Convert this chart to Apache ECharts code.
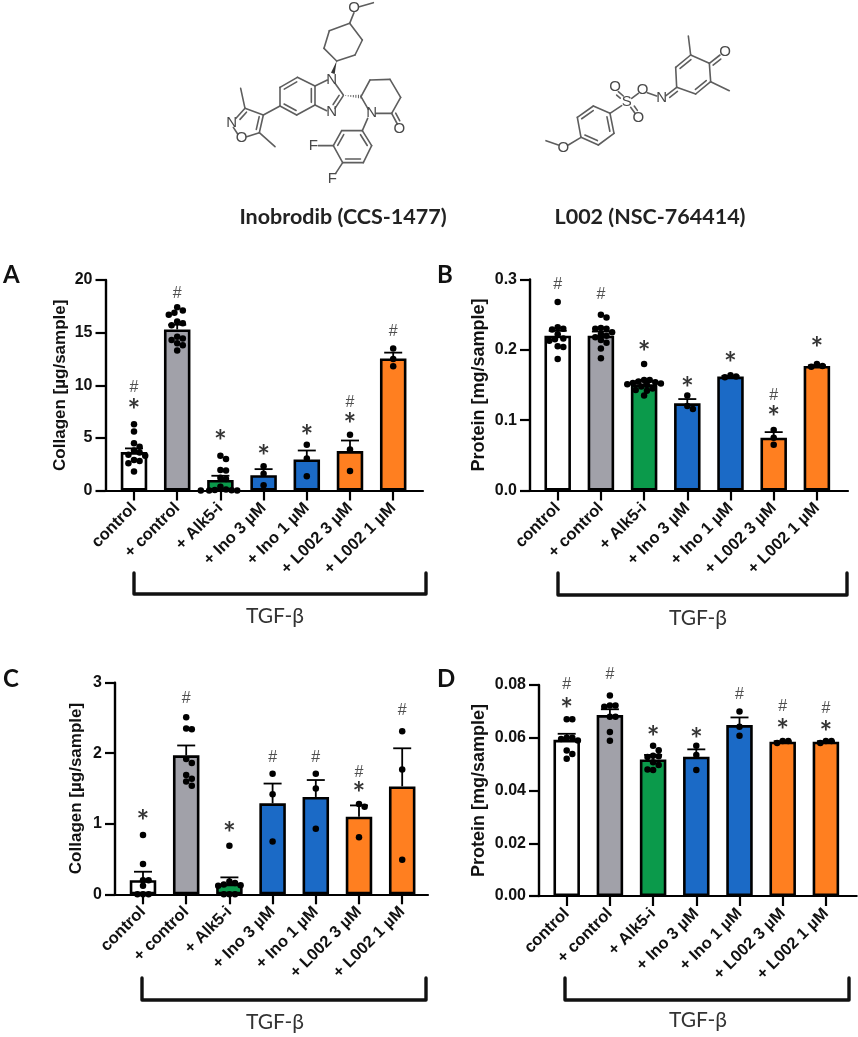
<!DOCTYPE html>
<html><head><meta charset="utf-8">
<style>html,body{margin:0;padding:0;background:#fff}#c{width:858px;height:1037px}</style>
<script src="https://cdn.jsdelivr.net/npm/echarts@6/dist/echarts.min.js"></script>
</head><body><div id="c"></div>
<script>
const categories = ['control','+ control','+ Alk5-i','+ Ino 3 µM','+ Ino 1 µM','+ L002 3 µM','+ L002 1 µM'];
const barColors = ['#ffffff','#a1a1a9','#0b9a4b','#1b6ac6','#1b6ac6','#ff7f20','#ff7f20'];

const barsA = [3.65,15.3,1.0,1.45,2.95,3.75,12.55];
const errA  = [4.0,15.75,1.4,2.03,3.8,4.75,13.1];
const ptsA  = [
 [6.3,5.6,4.5,4.15,3.8,3.6,3.4,3.3,2.9,2.8,2.6,1.8],
 [17.4,17.1,16.9,16.7,16.05,15.9,15.7,14.6,14.45,14.3,14.0,13.8,13.3],
 [3.3,3.0,1.95,1.9,1.2,1.1,0.35,0.1,0.05,0.02,0,0,0],
 [2.3,1.6,0.5],[4.35,3.05,1.35],[5.3,3.9,1.85],[13.5,12.5,11.8]];
const hashA = [9.78,18.7,null,null,null,8.35,15.1];
const starA = [8.2,null,5.2,3.86,5.7,6.87,null];

const barsB = [0.22,0.22,0.151,0.124,0.162,0.075,0.177];
const errB  = [0.227,0.226,0.156,0.13,0.163,0.083,0.178];
const ptsB  = [
 [0.268,0.232,0.23,0.229,0.222,0.216,0.215,0.213,0.205,0.204,0.187],
 [0.25,0.246,0.231,0.23,0.23,0.225,0.222,0.22,0.218,0.214,0.21,0.202,0.188],
 [0.18,0.157,0.157,0.155,0.154,0.153,0.152,0.151,0.15,0.148,0.145,0.143,0.142,0.135],
 [0.135,0.12,0.116],[0.164,0.162,0.161],[0.086,0.075,0.065],[0.18,0.177,0.176]];
const hashB = [0.2924,0.278,null,null,null,0.1346,null];
const starB = [null,null,0.2047,0.154,0.189,0.1123,0.211];

const barsC = [0.2,1.97,0.15,1.29,1.38,1.1,1.53];
const errC  = [0.32,2.11,0.24,1.57,1.62,1.26,2.07];
const ptsC  = [
 [0.84,0.43,0.2,0.2,0.12,0,0,0],
 [2.51,2.35,2.34,1.92,1.86,1.69,1.64,1.6,1.54],
 [0.69,0.18,0.16,0.14,0.13,0.12,0,0,0],
 [1.71,1.42,0.75],[1.71,1.5,0.93],[1.28,1.24,0.81],[2.31,1.77,0.49]];
const hashC = [null,2.77,null,1.94,1.94,1.73,2.61];
const starC = [1.124,null,0.945,null,null,1.51,null];

const barsD = [0.0592,0.0686,0.0518,0.0528,0.0648,0.0585,0.0585];
const errD  = [0.0615,0.0708,0.0535,0.0556,0.0677,0.0587,0.0587];
const ptsD  = [
 [0.067,0.067,0.06,0.06,0.0595,0.059,0.0552,0.0538,0.052],
 [0.076,0.0722,0.0722,0.0718,0.068,0.068,0.0622,0.0589],
 [0.057,0.0553,0.0532,0.053,0.0527,0.0507,0.0497,0.0478,0.048],
 [0.057,0.0535,0.0478],[0.07,0.0642,0.0608],[0.0588,0.0588,0.058],[0.0588,0.0588,0.058]];
const hashD = [0.08,0.0838,null,null,0.0762,0.0718,0.0712];
const starD = [0.0729,null,0.0625,0.0617,null,0.065,0.0645];

const yTicksA = [0,5,10,15,20];
const yTicksB = [0,0.1,0.2,0.3];
const yTicksC = [0,1,2,3];
const yTicksD = [0,0.02,0.04,0.06,0.08];

const panels = [
 {letter:'A',lx:3,ly:275,name:'Collagen [µg/sample]',nameSize:17,gap:37,left:105.5,right:423,top:280,bottom:490.5,c0:134,ticks:yTicksA,dec:0,bars:barsA,err:errA,pts:ptsA,hash:hashA,star:starA,br:[134,426,573,594],tx:275,ty:616},
 {letter:'B',lx:437,ly:275,name:'Protein [mg/sample]',nameSize:18,gap:42,left:530,right:848,top:279.5,bottom:490.5,c0:557.7,ticks:yTicksB,dec:1,bars:barsB,err:errB,pts:ptsB,hash:hashB,star:starB,br:[558,847,573,595],tx:698,ty:618},
 {letter:'C',lx:3,ly:679,name:'Collagen [µg/sample]',nameSize:17,gap:30,left:115,right:428,top:682.7,bottom:894.3,c0:143,ticks:yTicksC,dec:0,bars:barsC,err:errC,pts:ptsC,hash:hashC,star:starC,br:[142,426,978,1000],tx:275,ty:1022},
 {letter:'D',lx:437,ly:679,name:'Protein [mg/sample]',nameSize:18,gap:51,left:539,right:856.7,top:685,bottom:896,c0:566.7,ticks:yTicksD,dec:2,bars:barsD,err:errD,pts:ptsD,hash:hashD,star:starD,br:[565,849,978,1000],tx:698,ty:1020}
];
const STEP = 43.2, DOT = 6.5;

// Prism-style swarm: spread equal-ish values sideways so that dots do not sit on each other
function swarm(values, pxPerUnit, x){
  const placed=[], out=[];
  values.forEach(v=>{
    const y=v*pxPerUnit;
    for(let k=0;k<40;k++){
      const off=(k%2?1:-1)*Math.ceil(k/2)*2.8;
      if(placed.every(p=>Math.hypot(p[0]-off,p[1]-y)>=5.6)){placed.push([off,y]);out.push([x+off/STEP,v]);break;}
    }
  });
  return out;
}

const grids=[],xAxes=[],yAxes=[],series=[],graphics=[];
const FONT='"Liberation Sans",Arial,sans-serif', CAL='Lato,"Noto Sans",sans-serif';
panels.forEach((p,i)=>{
  const idx=categories.map((_,k)=>k);
  const yMax=p.ticks[p.ticks.length-1];
  grids.push({left:p.left,width:p.right-p.left,top:p.top,height:p.bottom-p.top,containLabel:false});
  xAxes.push({gridIndex:i,type:'value',min:(p.left-p.c0)/STEP,max:(p.right-p.c0)/STEP,splitLine:{show:false},
    axisLine:{show:true,onZero:false,lineStyle:{color:'#000',width:2.2}},
    axisTick:{show:true,customValues:idx,length:10,lineStyle:{color:'#000',width:2.2}},
    axisLabel:{customValues:idx,rotate:45,margin:15,color:'#111',fontFamily:FONT,fontWeight:'bold',fontSize:16.5,hideOverlap:false,
      formatter:v=>categories[Math.round(v)]}});
  yAxes.push({gridIndex:i,type:'value',min:0,max:yMax,interval:p.ticks[1]-p.ticks[0],splitLine:{show:false},
    name:p.name,nameLocation:'middle',nameGap:p.gap,nameMoveOverlap:false,
    nameTextStyle:{color:'#111',fontFamily:FONT,fontWeight:'bold',fontSize:p.nameSize},
    axisLine:{show:true,onZero:false,lineStyle:{color:'#000',width:2.4}},
    axisTick:{show:true,length:10,lineStyle:{color:'#000',width:2.2}},
    axisLabel:{margin:13,color:'#111',fontFamily:FONT,fontWeight:'bold',fontSize:16,formatter:v=>v.toFixed(p.dec)}});
  series.push({type:'bar',xAxisIndex:i,yAxisIndex:i,barWidth:26.5,z:2,
    data:p.bars.map((v,k)=>({value:[k,v],itemStyle:{color:barColors[k],borderColor:'#000',borderWidth:2.6}}))});
  series.push({type:'custom',xAxisIndex:i,yAxisIndex:i,z:3,clip:false,
    data:p.err.map((v,k)=>[k,p.bars[k],v]),
    renderItem:(params,api)=>{
      const a=api.coord([api.value(0),api.value(1)]), b=api.coord([api.value(0),api.value(2)]);
      const st={stroke:'#000',lineWidth:1.8,fill:null};
      return {type:'group',children:[
        {type:'line',shape:{x1:a[0],y1:a[1],x2:b[0],y2:b[1]},style:st},
        {type:'line',shape:{x1:b[0]-9,y1:b[1],x2:b[0]+9,y2:b[1]},style:st}]};
    }});
  const ppu=(p.bottom-p.top)/yMax;
  series.push({type:'scatter',xAxisIndex:i,yAxisIndex:i,z:4,clip:false,symbolSize:DOT,itemStyle:{color:'#000',opacity:1},
    data:p.pts.flatMap((vals,k)=>swarm(vals,ppu,k))});
  [['#',p.hash,16,'#222',0,'normal'],['*',p.star,30,'#000',7,'bold']].forEach(([ch,arr,fs,col,dy,fw])=>{
    series.push({type:'scatter',xAxisIndex:i,yAxisIndex:i,z:5,clip:false,symbolSize:0,silent:true,
      data:arr.map((v,k)=>v==null?null:[k,v]).filter(Boolean),
      label:{show:true,position:'inside',formatter:ch,color:col,fontSize:fs,fontWeight:fw,fontFamily:ch==='*'?CAL:FONT,offset:[0,dy]}});
  });
  // panel letter
  graphics.push({type:'text',x:p.lx,y:p.ly,style:{text:p.letter,font:'bold 24px '+CAL,fill:'#111',textVerticalAlign:'middle'}});
  // TGF-beta bracket
  const [x1,x2,y1,y2]=p.br;
  graphics.push({type:'polyline',shape:{points:[[x1,y1],[x1,y2],[x2,y2],[x2,y1]]},style:{stroke:'#111',lineWidth:3.4,fill:null,lineJoin:'round',lineCap:'round'}});
  graphics.push({type:'text',x:p.tx,y:p.ty,style:{text:'TGF-β',font:'21px '+CAL,fill:'#333',textAlign:'center',textVerticalAlign:'middle'}});
});

// compound structures: bonds as [x1,y1,x2,y2] in 1/3-pixel units of their own frame
const inobrodibBonds=[[478,20,520,8],[462,38,449,70],[449,70,487,120],[487,120,465,165],[465,165,410,183],[410,183,372,145],[372,145,388,92],[388,92,449,70],
 [382,240,345,258],[405,250,430,285],[430,287,405,325],[380,332,345,315],
 [345,258,292,232],[292,232,240,262],[240,262,240,318],[240,318,290,345],[290,345,345,315],[345,315,345,258],
 [483,290,510,240],[510,240,570,238],[570,238,602,292],[602,292,575,340],[575,340,528,340],[505,328,483,290],[575,340,592,372],[503,355,487,392],
 [487,392,425,392],[425,392,400,437],[400,437,428,488],[428,488,490,488],[490,488,515,437],[515,437,487,392],[355,437,400,437],[428,488,407,520],
 [240,318,190,345],[190,345,135,325],[135,325,108,355],[100,382,113,402],[140,410,178,398],[178,398,190,345],[135,325,122,265],[178,398,225,440]];
const inobrodibDouble=[[292,232,240,262,292,290],[240,318,290,345,292,290],[345,315,345,258,292,290],[430,287,405,325,370,290],[575,340,592,372,620,340],
 [425,392,400,437,458,440],[428,488,490,488,458,440],[515,437,487,392,458,440],[135,325,108,355,150,380],[178,398,190,345,150,380]];
const inobrodibAtoms=[['O',462,24],['N',395,240],['N',395,335],['N',515,340],['O',598,388],['F',340,437],['F',397,537],['N',95,368],['O',125,415]];
const l002Bonds=[[628,160,572,135],[572,135,527,172],[527,172,530,232],[530,232,587,252],[587,252,632,215],[632,215,628,160],[628,160,660,135],[572,135,565,78],[632,215,688,242],
 [530,232,498,257],[470,258,442,248],[415,250,395,265],[370,258,355,245],[392,292,405,310],[365,287,330,310],
 [330,310,280,288],[280,288,232,322],[232,322,243,382],[243,382,295,405],[295,405,342,370],[342,370,330,310],[243,382,205,405],[175,405,138,392]];
const l002Double=[[572,135,527,172,575,195],[587,252,632,215,575,195],[628,160,660,135,670,170],[530,232,498,257,530,280],[370,258,355,245,335,270],[392,292,405,310,425,290],
 [280,288,232,322,287,345],[243,382,295,405,287,345],[342,370,330,310,287,345]];
const l002Atoms=[['O',675,125],['N',485,265],['O',428,240],['S',380,275],['O',345,232],['O',415,325],['O',190,415]];

function drawMol(x0,y0,bonds,doubles,atoms,extra){
  const X=v=>x0+v/3,Y=v=>y0+v/3,st={stroke:'#5e5e5e',lineWidth:1.6,lineCap:'round'};
  bonds.forEach(b=>graphics.push({type:'line',shape:{x1:X(b[0]),y1:Y(b[1]),x2:X(b[2]),y2:Y(b[3])},style:st}));
  doubles.forEach(([a,b,c,d,px,py])=>{
    const dx=c-a,dy=d-b,L=Math.hypot(dx,dy);let nx=dy/L,ny=-dx/L;
    if((px-a)*nx+(py-b)*ny<0){nx=-nx;ny=-ny;}
    const o=11,s=0.14;
    graphics.push({type:'line',shape:{x1:X(a+dx*s+nx*o),y1:Y(b+dy*s+ny*o),x2:X(c-dx*s+nx*o),y2:Y(d-dy*s+ny*o)},style:st});
  });
  atoms.forEach(([t,x,y])=>graphics.push({type:'text',x:X(x),y:Y(y),style:{text:t,font:'15px "Liberation Sans"',fill:'#4a4a4a',textAlign:'center',textVerticalAlign:'middle'}}));
  if(extra)extra(X,Y,st);
}
drawMol(200,0,inobrodibBonds,inobrodibDouble,inobrodibAtoms,(X,Y,st)=>{
  graphics.push({type:'polygon',shape:{points:[[X(410),Y(183)],[X(393),Y(218)],[X(404),Y(222)]]},style:{fill:'#333'}});
  for(let k=0;k<7;k++){const t=k/6,x=437+46*t,y=287+3*t,h=1+t*5;
    graphics.push({type:'line',shape:{x1:X(x),y1:Y(y-h),x2:X(x),y2:Y(y+h)},style:{stroke:'#5e5e5e',lineWidth:1}});}
});
drawMol(500,10,l002Bonds,l002Double,l002Atoms);

graphics.push({type:'text',x:343,y:217,style:{text:'Inobrodib (CCS-1477)',font:'bold 21.5px '+CAL,fill:'#222',textAlign:'center',textVerticalAlign:'middle'}});
graphics.push({type:'text',x:650,y:217,style:{text:'L002 (NSC-764414)',font:'bold 21.5px '+CAL,fill:'#222',textAlign:'center',textVerticalAlign:'middle'}});

const chart=echarts.init(document.getElementById('c'),null,{renderer:'canvas'});
chart.setOption({animation:false,backgroundColor:'#fff',grid:grids,xAxis:xAxes,yAxis:yAxes,series,graphic:graphics});
</script></body></html>
